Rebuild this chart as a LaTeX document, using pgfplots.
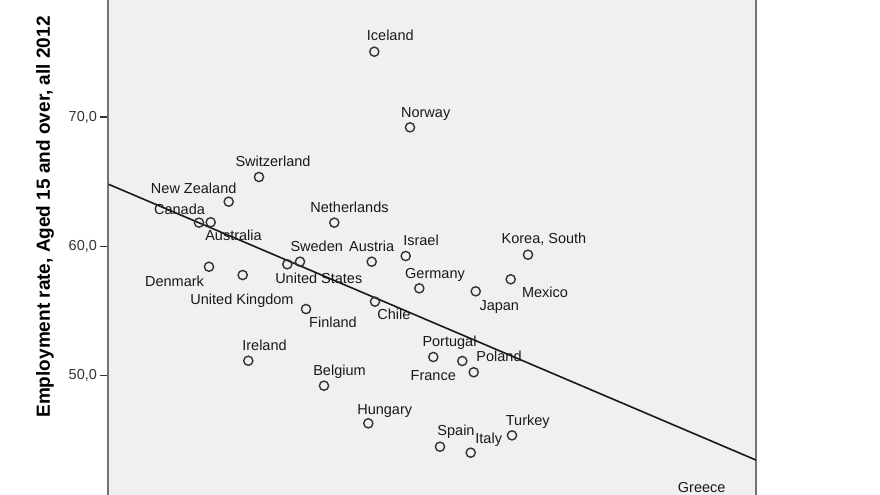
\documentclass[border=0pt]{standalone}
\usepackage{fontspec}
\setmainfont{Liberation Sans}
\usepackage{pgfplots}
\usepackage{pgfplotstable}
\pgfplotsset{compat=1.18}

% x: position along the (hidden) horizontal axis, y: employment rate 2012
\pgfplotstableread{
x      y      dx     dy     label
374.3  75.05  16.0   16.0   Iceland
410.0  69.20  15.7   14.6   Norway
259.0  65.36  14.0   16.0   Switzerland
228.7  63.45  -35.0  13.4   {New Zealand}
199.0  61.83  -19.5  12.7   Canada
210.7  61.86  22.8   -13.7  Australia
334.3  61.83  15.2   15.4   Netherlands
300.0  58.81  16.7   15.0   Sweden
371.7  58.81  0.0    15.0   Austria
405.7  59.25  15.3   15.3   Israel
528.0  59.35  16.0   16.0   {Korea, South}
419.3  56.75  15.7   15.0   Germany
510.7  57.45  34.3   -13.4  Mexico
475.7  56.52  23.6   -13.7  Japan
209.0  58.42  -34.5  -14.3  Denmark
242.7  57.78  -0.7   -24.3  {United Kingdom}
287.3  58.61  31.5   -14.0  {United States}
306.0  55.15  27.0   -13.3  Finland
375.0  55.72  18.8   -13.3  Chile
433.3  51.44  16.2   15.3   Portugal
462.3  51.13  36.7   4.3    Poland
473.7  50.26  -40.4  -3.4   France
248.3  51.15  16.2   15.4   Ireland
324.0  49.22  15.5   15.0   Belgium
368.3  46.31  16.4   14.3   Hungary
440.0  44.50  16.0   16.0   Spain
470.7  44.04  18.0   14.3   Italy
512.0  45.38  15.8   14.7   Turkey
685.7  40.12  16.0   16.0   Greece
}\countries

\begin{document}
\begin{tikzpicture}
\begin{axis}[
    scale only axis,
    width=647.5pt, height=530.8pt,
    xmin=108.5, xmax=756,
    ymin=38, ymax=79.05,
    axis background/.style={fill=black!6},
    separate axis lines,
    x axis line style={draw=none},
    y axis line style={line width=2pt, draw=black!55},
    xtick=\empty,
    ytick={40,50,60,70},
    ytick pos=left,
    tick align=outside,
    major tick length=8pt,
    ytick style={line width=1.2pt, black!80},
    yticklabel style={
        /pgf/number format/.cd, fixed, fixed zerofill, precision=1, use comma,
        assume math mode=true},
    ticklabel style={font=\fontsize{14.5}{16}\selectfont, text=black!80},
    ylabel={Employment rate, Aged 15 and over, all 2012},
    every axis y label/.style={at={(axis cs:108.5,62.27)}, xshift=-63.5pt,
        rotate=90, anchor=center, font=\fontsize{19}{21}\selectfont\bfseries},
]
\addplot[only marks, mark=o, mark size=4.6pt,
    mark options={line width=1.4pt, draw=black!80},
    point meta=explicit symbolic,
    visualization depends on={\thisrow{dx}\as\dx},
    visualization depends on={\thisrow{dy}\as\dy},
    nodes near coords,
    every node near coord/.style={anchor=center, inner sep=0pt,
        text height=10pt, text depth=0pt, text=black!90,
        font=\fontsize{14.5}{16}\selectfont,
        xshift=\dx pt, yshift=\dy pt},
] table[x=x, y=y, meta=label] {\countries};
% fit line
\addplot[black!90, line width=1.6pt] coordinates {(108.5,64.80) (756,43.47)};
\coordinate (bl) at (axis cs:108.5,40.77);
\coordinate (tr) at (axis cs:756,79.05);
\end{axis}
\pgfresetboundingbox
\path[use as bounding box] ([xshift=-108.5pt]bl) rectangle ([xshift=124pt]tr);
\end{tikzpicture}
\end{document}
